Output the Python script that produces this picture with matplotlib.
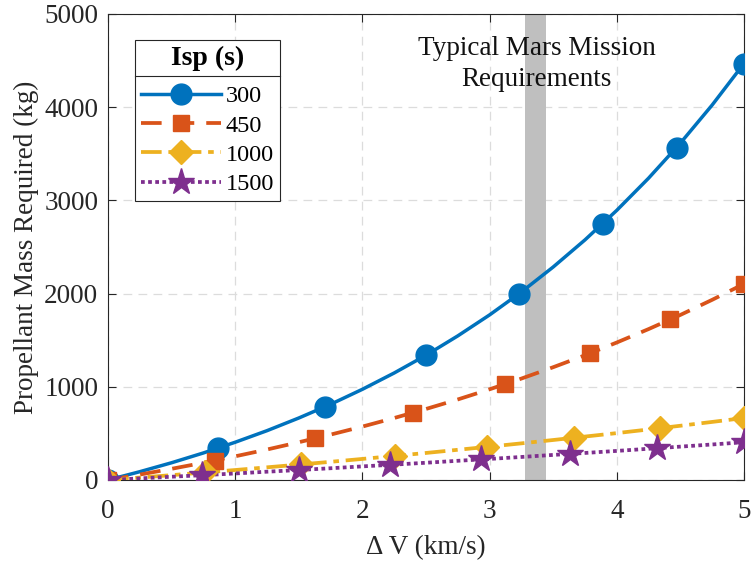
import matplotlib
matplotlib.use("Agg")
import matplotlib.pyplot as plt
from matplotlib.lines import Line2D

plt.rcParams['font.family'] = ['Liberation Serif', 'DejaVu Serif']

# ---- data ----
dv_line = [0, 0.25, 0.5, 0.75, 1.0, 1.25, 1.5, 1.75, 2.0, 2.25, 2.5,
           2.75, 3.0, 3.25, 3.5, 3.75, 4.0, 4.25, 4.5, 4.75, 5.0]
m_300 = [0, 89, 185, 290, 405, 529, 665, 812, 973, 1148, 1338,
         1546, 1771, 2017, 2285, 2576, 2893, 3238, 3614, 4023, 4468]
m_450 = [0, 58, 120, 185, 254, 327, 405, 487, 573, 665, 762,
         864, 973, 1088, 1210, 1338, 1475, 1619, 1771, 1933, 2104]
m_1000 = [0, 26, 52, 80, 107, 136, 165, 195, 226, 258, 290,
          324, 358, 393, 429, 466, 503, 542, 582, 623, 665]
m_1500 = [0, 17, 35, 52, 70, 89, 107, 126, 146, 165, 185,
          206, 226, 247, 269, 290, 312, 335, 358, 381, 405]

mk_dv_300 = [0, 0.865, 1.706, 2.50, 3.23, 3.89, 4.47, 5.0]
mk_m_300 = [0, 342, 785, 1338, 1997, 2750, 3567, 4468]
mk_dv_450 = [0, 0.84, 1.63, 2.40, 3.12, 3.79, 4.42, 5.0]
mk_m_450 = [0, 209, 447, 722, 1027, 1360, 1722, 2104]
mk_dv_1000 = [0, 0.76, 1.52, 2.26, 2.98, 3.66, 4.34, 5.0]
mk_m_1000 = [0, 81, 168, 259, 355, 452, 556, 665]
mk_dv_1500 = [0, 0.74, 1.50, 2.22, 2.93, 3.63, 4.32, 5.0]
mk_m_1500 = [0, 52, 107, 163, 220, 280, 341, 405]

isp_labels = ['300', '450', '1000', '1500']
band = (3.28, 3.44)

colors = ['#0072BD', '#D95319', '#EDB120', '#7E2F8E']

fig = plt.figure(figsize=(7.52, 5.61), dpi=100)
ax = fig.add_axes([0.1436, 0.1444, 0.8457, 0.8307])

ax.axvspan(band[0], band[1], color='#BFBFBF', lw=0, zorder=1.5)

series = [
    (dv_line, m_300, mk_dv_300, mk_m_300, '-', 'o', 15),
    (dv_line, m_450, mk_dv_450, mk_m_450, (0, (5.5, 3.2)), 's', 12),
    (dv_line, m_1000, mk_dv_1000, mk_m_1000, (0, (5.5, 1.8, 1.5, 1.8)), 'D', 12.5),
    (dv_line, m_1500, mk_dv_1500, mk_m_1500, (0, (1.0, 0.9)), '*', 20),
]
handles = []
for (x, y, mx, my, ls, mk, ms), c, lab in zip(series, colors, isp_labels):
    lw = 2.5 if ls == '-' else 2.7
    ax.plot(x, y, color=c, ls=ls, lw=lw, zorder=3)
    ax.plot(mx, my, ls='none', marker=mk, ms=ms, color=c, mec=c, zorder=3.5)
    handles.append(Line2D([], [], color=c, ls=ls, lw=lw, marker=mk, ms=ms,
                          mec=c, label=lab))

ax.set_xlim(0, 5)
ax.set_ylim(0, 5000)
ax.set_xticks([0, 1, 2, 3, 4, 5])
ax.set_yticks([0, 1000, 2000, 3000, 4000, 5000])
ax.tick_params(direction='in', length=6, width=0.8, top=True, right=True,
               labelsize=19.5, colors='#262626', labelcolor='#262626')
ax.tick_params(axis='x', pad=14)
ax.tick_params(axis='y', pad=7)
for s in ax.spines.values():
    s.set_color('#262626')
    s.set_linewidth(0.8)
ax.grid(True, color='#DCDCDC', ls=(0, (7, 5)), lw=0.9, zorder=0)
ax.set_axisbelow(True)

ax.set_xlabel('\u0394\u2009V (km/s)', fontsize=19.5, color='#262626', labelpad=8)
ax.set_ylabel('Propellant Mass Required (kg)', fontsize=19.5, color='#262626', labelpad=4)

ax.text(3.37, 4460, 'Typical Mars Mission\nRequirements', ha='center', va='center',
        fontsize=19.5, color='#111111', linespacing=1.3, zorder=5)

leg = ax.legend(handles=handles, loc='upper left', bbox_to_anchor=(0.042, 0.944),
                title='Isp (s)', fontsize=17.5,
                title_fontproperties={'weight': 'bold', 'size': 20},
                handlelength=3.3, handletextpad=0.2, labelspacing=0.3,
                borderpad=0.25, borderaxespad=0, fancybox=False, framealpha=1,
                edgecolor='#262626')
leg.get_frame().set_linewidth(0.8)
leg.set_zorder(10)
leg._legend_box.sep = 10

fig.canvas.draw()
lb = leg.get_window_extent()
tb = leg.get_title().get_window_extent()
inv = fig.transFigure.inverted()
ysep = tb.y0 - 5
x0, y0 = inv.transform((lb.x0, ysep))
x1, _ = inv.transform((lb.x1, ysep))
fig.add_artist(Line2D([x0, x1], [y0, y0], color='#262626', lw=0.8, zorder=11,
                      transform=fig.transFigure))

fig.savefig('out.png', dpi=100)
